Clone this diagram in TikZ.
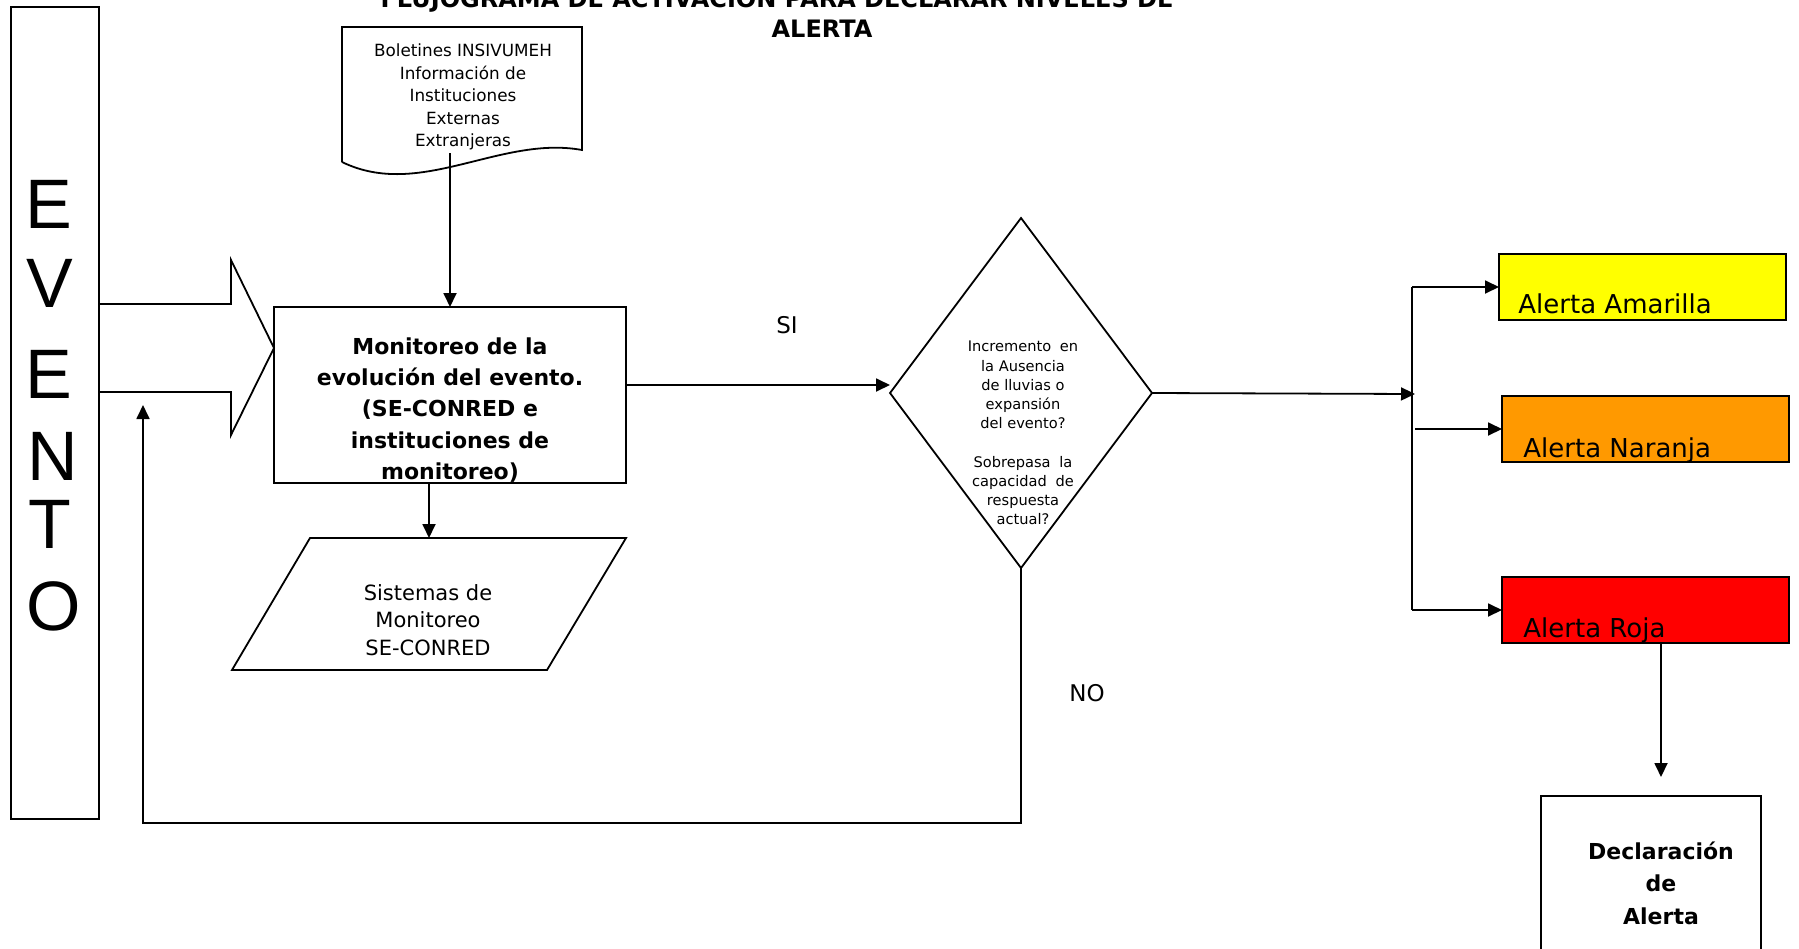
\documentclass[tikz,border=0pt]{standalone}
\usepackage{fontspec}
\setmainfont{DejaVu Sans}
\newfontfamily\evfont{Liberation Sans}
\usetikzlibrary{shapes.geometric,arrows.meta}
\definecolor{cAmar}{RGB}{255,255,0}
\definecolor{cNar}{RGB}{255,153,0}
\definecolor{cRoja}{RGB}{255,0,0}
\begin{document}
\begin{tikzpicture}[x=0.5pt,y=-0.5pt,
  ln/.style={line width=0.9pt},
  arr/.style={ln,-{Triangle[length=7pt,width=6.5pt]}},
  box/.style={draw,ln,rectangle,inner sep=0pt,outer sep=0pt},
  ghost/.style={rectangle,inner sep=0pt,outer sep=0pt},
  txt/.style={inner sep=0pt,outer sep=0pt,align=center},
  evl/.style={inner sep=0pt,anchor=base,font=\evfont\fontsize{35pt}{35pt}\selectfont},
  alt/.style={inner sep=0pt,anchor=base west,font=\fontsize{13pt}{15pt}\selectfont},
]
\useasboundingbox (0,0) rectangle (1799,948);

% title
\node[txt,anchor=base,font=\bfseries\fontsize{12pt}{14pt}\selectfont] (tit1) at (777,7.5) {FLUJOGRAMA DE ACTIVACION PARA DECLARAR NIVELES DE};
\node[txt,anchor=base,font=\bfseries\fontsize{12pt}{14pt}\selectfont] (tit2) at (822,37) {ALERTA};

% EVENTO column
\node[box,minimum width=44pt,minimum height=406pt] (evento) at (55,413) {};
\node[evl] (ev1) at (49,228) {E};
\node[evl] (ev2) at (50,307) {V};
\node[evl] (ev3) at (49,398) {E};
\node[evl] (ev4) at (53,480) {N};
\node[evl] (ev5) at (50,548) {T};
\node[evl] (ev6) at (54,630) {O};

% block arrow
\draw[ln] (99,304) -- (231,304) -- (231,260) -- (274,348) -- (231,435) -- (231,392) -- (99,392);

% document shape
\node[ghost,minimum width=120pt,minimum height=63pt] (doc) at (462,90) {};
\draw[ln] (342,162) -- (342,27) -- (582,27) -- (582,150) .. controls (500,135) and (420,200) .. (342,162);
\node[txt,font=\fontsize{8.4pt}{11.3pt}\selectfont] (doctxt) at (463,97) {Boletines INSIVUMEH\\Información de\\Instituciones\\Externas\\Extranjeras};

% monitoring box
\node[box,minimum width=176pt,minimum height=88pt] (mon) at (450,395) {};
\node[txt,font=\bfseries\fontsize{11pt}{15.6pt}\selectfont] (montxt) at (450,410) {Monitoreo de la\\evolución del evento.\\(SE-CONRED e\\instituciones de\\monitoreo)};

% parallelogram
\node[ghost,minimum width=158pt,minimum height=66pt] (para) at (429,604) {};
\draw[ln] (310,538) -- (626,538) -- (547,670) -- (232,670) -- cycle;
\node[txt,font=\fontsize{10.5pt}{13.75pt}\selectfont] (paratxt) at (428,620) {Sistemas de\\Monitoreo\\SE-CONRED};

% decision diamond
\node[draw,ln,diamond,inner sep=0pt,outer sep=0pt,minimum width=131pt,minimum height=175pt] (dia) at (1021,393) {};
\node[txt,font=\fontsize{7.3pt}{9.6pt}\selectfont] (diatxt) at (1023,433) {Incremento\hspace{0.6em}en\\la Ausencia\\de lluvias o\\expansión\\del evento?\\[9.6pt]Sobrepasa\hspace{0.6em}la\\capacidad\hspace{0.6em}de\\respuesta\\actual?};

% alert boxes
\node[box,fill=cAmar,minimum width=143.5pt,minimum height=33pt] (amar) at (1642.5,287) {};
\node[alt] (amartxt) at (1518,313) {Alerta Amarilla};
\node[box,fill=cNar,minimum width=143.5pt,minimum height=33pt] (nar) at (1645.5,429) {};
\node[alt] (nartxt) at (1523,457) {Alerta Naranja};
\node[box,fill=cRoja,minimum width=143.5pt,minimum height=33pt] (roja) at (1645.5,610) {};
\node[alt] (rojatxt) at (1523,637) {Alerta Roja};

% declaration box
\node[box,minimum width=110pt,minimum height=92pt] (decl) at (1651,888) {};
\node[txt,font=\bfseries\fontsize{11pt}{16.2pt}\selectfont] (decltxt) at (1661,883) {Declaración\\de\\Alerta};

% labels
\node[txt,font=\fontsize{11.5pt}{13pt}\selectfont] (si) at (787,325) {SI};
\node[txt,font=\fontsize{11.5pt}{13pt}\selectfont] (no) at (1087,693) {NO};

% connectors
\draw[arr] (doc.south -| montxt) -- (mon.north -| montxt);
\draw[arr] (mon.south -| para.north) -- (para.north);
\draw[ln] (mon.east) ++(0,-10) coordinate (siA);
\draw[arr] (siA) -- (siA -| dia.west);
\coordinate (bus) at (1412,394);
\draw[arr] (dia.east) -- ([xshift=1.5pt]bus);
\draw[ln] (amar.west -| bus) -- (roja.west -| bus);
\draw[arr] (amar.west -| bus) -- (amar.west);
\draw[arr] ([xshift=1.5pt]nar.west -| bus) -- (nar.west);
\draw[arr] (roja.west -| bus) -- (roja.west);
\draw[arr] (roja.south -| decltxt) -- ([yshift=9.5pt]decl.north -| decltxt);
\coordinate (loopL) at (143,823);
\coordinate (loopEnd) at (143,405);
\draw[arr] (dia.south) |- (loopL) -- (loopEnd);
\end{tikzpicture}
\end{document}
